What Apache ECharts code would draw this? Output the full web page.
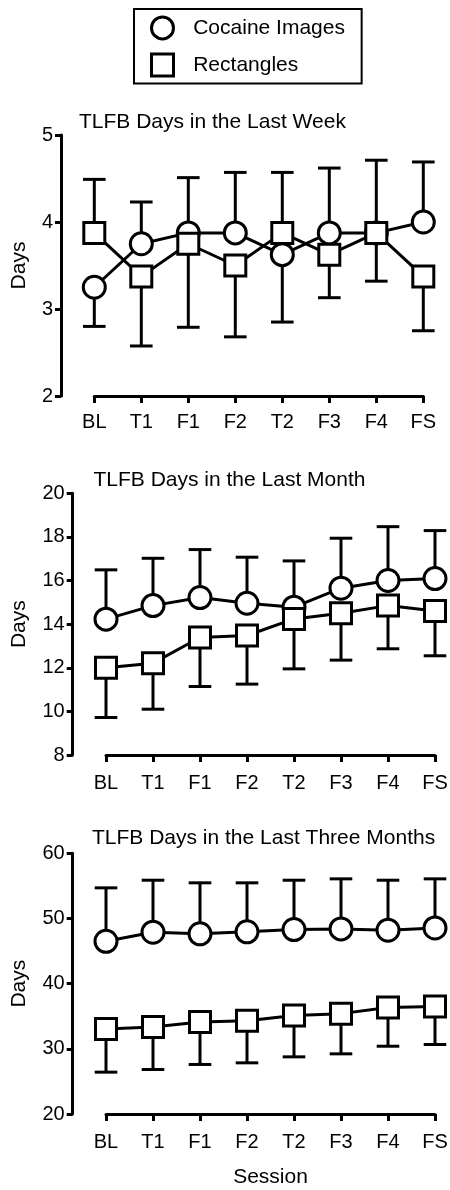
<!DOCTYPE html>
<html>
<head>
<meta charset="utf-8">
<script src="https://cdn.jsdelivr.net/npm/echarts@6/dist/echarts.min.js"></script>
<style>
html,body{margin:0;padding:0;background:#fff;}
#c{width:450px;height:1190px;}
</style>
</head>
<body>
<div id="c"></div>
<script>
const categories = ['BL','T1','F1','F2','T2','F3','F4','FS'];
const seriesNames = ['Cocaine Images','Rectangles'];
const panelTitles = ['TLFB Days in the Last Week','TLFB Days in the Last Month','TLFB Days in the Last Three Months'];

// Week panel
const weekCocaine    = [3.25, 3.75, 3.875, 3.875, 3.625, 3.875, 3.875, 4.0];
const weekCocaineErr = [0.45, 0.48, 0.635, 0.695, 0.775, 0.745, 0.835, 0.69];
const weekRect       = [3.875, 3.375, 3.75, 3.5, 3.875, 3.625, 3.875, 3.375];
const weekRectErr    = [0.615, 0.8, 0.96, 0.82, 0.695, 0.495, 0.555, 0.625];
const weekTicks      = [2, 5, 1];

// Month panel
const monthCocaine    = [14.23, 14.85, 15.22, 14.96, 14.78, 15.65, 16.0, 16.09];
const monthCocaineErr = [2.26, 2.17, 2.2, 2.11, 2.12, 2.29, 2.47, 2.2];
const monthRect       = [12.0, 12.21, 13.39, 13.48, 14.24, 14.5, 14.85, 14.6];
const monthRectErr    = [2.28, 2.11, 2.25, 2.23, 2.29, 2.15, 1.98, 2.05];
const monthTicks      = [8, 20, 2];

// Three-month panel
const threeCocaine    = [46.5, 47.9, 47.65, 47.95, 48.3, 48.4, 48.2, 48.55];
const threeCocaineErr = [8.2, 7.97, 7.82, 7.52, 7.57, 7.68, 7.67, 7.53];
const threeRect       = [33.05, 33.35, 34.1, 34.3, 35.1, 35.4, 36.35, 36.5];
const threeRectErr    = [6.63, 6.52, 6.5, 6.45, 6.33, 6.17, 5.95, 5.84];
const threeTicks      = [20, 60, 10];

const panels = [
  {c: weekCocaine, ce: weekCocaineErr, r: weekRect, re: weekRectErr, t: weekTicks},
  {c: monthCocaine, ce: monthCocaineErr, r: monthRect, re: monthRectErr, t: monthTicks},
  {c: threeCocaine, ce: threeCocaineErr, r: threeRect, re: threeRectErr, t: threeTicks}
];

const FONT = 'Liberation Sans, Arial, sans-serif';
const layout = [
  {grid:{left:94.3, right:26.7, top:135, bottom:794}, off:33.3, title:{left:79, top:111.5}, nameGap:31, labelMargin:16.5},
  {grid:{left:106, right:15, top:493.3, bottom:435}, off:33.3, title:{left:93.5, top:470}, nameGap:43, labelMargin:18},
  {grid:{left:106, right:15, top:853.3, bottom:76}, off:33.3, title:{left:92, top:827.5}, nameGap:43, labelMargin:18}
];

const grids = [], xAxes = [], yAxes = [], titles = [], series = [];
const black = '#000';

function errRenderer(params, api) {
  const x = api.value(0), m = api.value(1), e = api.value(2);
  const p0 = api.coord([x, m]);
  const p1 = api.coord([x, e]);
  const hw = 11.3;
  return {
    type: 'group',
    children: [
      {type:'line', shape:{x1:p0[0], y1:p0[1], x2:p1[0], y2:p1[1]}, style:{stroke:black, lineWidth:3}},
      {type:'line', shape:{x1:p1[0]-hw, y1:p1[1], x2:p1[0]+hw, y2:p1[1]}, style:{stroke:black, lineWidth:3}}
    ]
  };
}

panels.forEach((p, i) => {
  const L = layout[i];
  grids.push(Object.assign({outerBoundsMode:'none', containLabel:false}, L.grid));
  titles.push({
    text: panelTitles[i], left: L.title.left, top: L.title.top, padding: 0,
    textStyle: {fontFamily: FONT, fontSize: 21, fontWeight: 'normal', color: black}
  });
  xAxes.push({
    gridIndex: i, type: 'category', data: categories, boundaryGap: false,
    axisLine: {show: true, onZero: false, lineStyle: {color: black, width: 3}},
    axisTick: {show: true, length: 7, lineStyle: {color: black, width: 3}},
    axisLabel: {color: black, fontSize: 20, fontFamily: FONT, margin: L.labelMargin, interval: 0},
    splitLine: {show: false},
    name: i === 2 ? 'Session' : '', nameLocation: 'middle', nameGap: 53,
    nameTextStyle: {color: black, fontSize: 21, fontFamily: FONT}
  });
  yAxes.push({
    gridIndex: i, type: 'value', min: p.t[0], max: p.t[1], interval: p.t[2],
    offset: L.off,
    axisLine: {show: true, lineStyle: {color: black, width: 3}},
    axisTick: {show: true, length: 6, lineStyle: {color: black, width: 3}},
    axisLabel: {color: black, fontSize: 20, fontFamily: FONT, margin: 8},
    splitLine: {show: false},
    name: 'Days', nameLocation: 'middle', nameGap: L.nameGap, nameRotate: 90,
    nameTextStyle: {color: black, fontSize: 21, fontFamily: FONT}
  });
  // error bars: the higher group shows the upper bar, the lower group the lower bar
  const cData = [], rData = [];
  for (let k = 0; k < categories.length; k++) {
    const cUp = p.c[k] >= p.r[k];
    cData.push([k, p.c[k], cUp ? p.c[k] + p.ce[k] : p.c[k] - p.ce[k]]);
    rData.push([k, p.r[k], cUp ? p.r[k] - p.re[k] : p.r[k] + p.re[k]]);
  }
  [cData, rData].forEach((d, j) => {
    series.push({
      type: 'custom', name: 'err' + i + j, xAxisIndex: i, yAxisIndex: i,
      renderItem: errRenderer, data: d, encode: {x: 0, y: [1, 2]}, z: 1, silent: true
    });
  });
  series.push({
    type: 'line', name: seriesNames[0], xAxisIndex: i, yAxisIndex: i, data: p.c,
    symbol: 'circle', symbolSize: 22, showAllSymbol: true, z: 2,
    lineStyle: {color: black, width: 3},
    itemStyle: {color: '#fff', borderColor: black, borderWidth: 3},
    emphasis: {disabled: true}
  });
  series.push({
    type: 'line', name: seriesNames[1], xAxisIndex: i, yAxisIndex: i, data: p.r,
    symbol: 'rect', symbolSize: 21, showAllSymbol: true, z: 3,
    lineStyle: {color: black, width: 3},
    itemStyle: {color: '#fff', borderColor: black, borderWidth: 3},
    emphasis: {disabled: true}
  });
});

const legendItemStyle = {color: '#fff', borderColor: black, borderWidth: 3};
const option = {
  animation: false,
  backgroundColor: '#fff',
  textStyle: {fontFamily: FONT},
  title: titles,
  legend: {
    orient: 'vertical', left: 134, top: 9,
    padding: [6.4, 16.7, 5.8, 16],
    borderColor: black, borderWidth: 2,
    itemWidth: 51.4, itemHeight: 22, itemGap: 12.2,
    symbolKeepAspect: true,
    textStyle: {color: black, fontSize: 21, fontFamily: FONT, lineHeight: 22},
    itemStyle: legendItemStyle,
    selectedMode: false,
    data: [
      {name: seriesNames[0], icon: 'circle', itemStyle: legendItemStyle},
      {name: seriesNames[1], icon: 'path://M0,0L10,0L10,10L0,10Z', itemStyle: legendItemStyle}
    ]
  },
  grid: grids, xAxis: xAxes, yAxis: yAxes, series: series
};
const chart = echarts.init(document.getElementById('c'), null, {renderer: 'canvas'});
chart.setOption(option);
</script>
</body>
</html>
